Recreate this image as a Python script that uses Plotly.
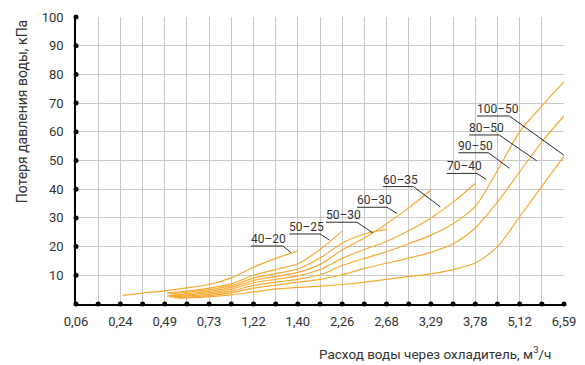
import plotly.graph_objects as go

# ---- data ----
x_tick_labels = ["0,06", "", "0,24", "", "0,49", "", "0,73", "", "1,22", "", "1,40", "",
                 "2,26", "", "2,68", "", "3,29", "", "3,78", "", "5,12", "", "6,59"]
y_tick_values = [10, 20, 30, 40, 50, 60, 70, 80, 90, 100]

# curves: positions along the categorical flow axis (index of tick) and pressure loss, kPa
c1_x = [2.1, 3, 4, 5, 6, 7, 8, 9, 10]
c1_y = [3.0, 3.8, 4.6, 5.6, 6.8, 9.1, 12.8, 15.9, 18.5]
c2_x = [4.1, 5, 6, 7, 8, 9, 10, 11, 12]
c2_y = [3.9, 4.5, 5.5, 7.0, 10.0, 12.0, 14.0, 19.0, 25.4]
c3_x = [4.2, 5, 6, 7, 8, 9, 10, 11, 12, 13, 14]
c3_y = [3.5, 4.1, 5.0, 6.4, 9.0, 10.6, 12.2, 16.0, 21.2, 24.4, 26.0]
c4_x = [4.3, 5, 6, 7, 8, 9, 10, 11, 12, 13, 14, 15, 16]
c4_y = [3.0, 3.6, 4.4, 5.8, 8.2, 9.6, 11.0, 13.8, 18.8, 23.0, 28.0, 33.5, 39.7]
c5_x = [4.1, 5, 6, 7, 8, 9, 10, 11, 12, 13, 14, 15, 16, 17, 18]
c5_y = [2.8, 3.2, 3.9, 5.2, 7.4, 8.6, 9.8, 12.0, 15.9, 19.0, 21.8, 25.5, 30.0, 35.5, 42.0]
c6_x = [4.2, 5, 6, 7, 8, 9, 10, 11, 12, 13, 14, 15, 16, 17, 18, 19, 20, 21, 22]
c6_y = [2.5, 2.8, 3.4, 4.5, 6.5, 7.6, 8.6, 10.2, 13.4, 15.9, 18.2, 21.0, 24.0, 28.0, 34.0, 46.5, 60.0, 69.0, 77.5]
c7_x = [4.4, 5, 6, 7, 8, 9, 10, 11, 12, 13, 14, 15, 16, 17, 18, 19, 20, 21, 22]
c7_y = [2.2, 2.4, 2.9, 3.9, 5.5, 6.6, 7.6, 8.6, 10.2, 12.4, 14.2, 16.0, 18.0, 21.0, 26.5, 35.5, 46.0, 56.5, 65.5]
c8_x = [4.6, 5, 6, 7, 8, 9, 10, 11, 12, 13, 14, 15, 16, 17, 18, 19, 20, 21, 22]
c8_y = [2.0, 2.1, 2.5, 3.2, 4.2, 5.2, 5.8, 6.2, 6.8, 7.6, 8.6, 9.6, 10.5, 12.0, 14.3, 20.0, 30.4, 41.0, 51.5]

curves = [(c1_x, c1_y), (c2_x, c2_y), (c3_x, c3_y), (c4_x, c4_y),
          (c5_x, c5_y), (c6_x, c6_y), (c7_x, c7_y), (c8_x, c8_y)]

# labels with leaders
label_names = ["40–20", "50–25", "50–30", "60–30", "60–35", "70–40", "90–50", "80–50", "100–50"]
label_x0 = [7.89, 9.62, 11.27, 12.67, 13.83, 16.71, 17.24, 17.73, 18.08]
label_x1 = [9.33, 11.01, 12.66, 14.02, 15.21, 18.08, 18.59, 19.08, 19.54]
label_y = [20.2, 24.4, 28.5, 33.7, 40.9, 45.5, 52.7, 58.9, 65.5]
leader_x = [9.69, 11.42, 13.38, 14.46, 16.42, 18.49, 19.54, 20.77, 21.99]
leader_y = [17.9, 22.3, 24.8, 31.6, 33.9, 43.4, 47.3, 49.9, 51.9]

ORANGE = "#F8A931"
FONT = "Roboto"

fig = go.Figure()

for cx, cy in curves:
    fig.add_trace(go.Scatter(x=cx, y=cy, mode="lines",
                             line=dict(color=ORANGE, width=1.2, shape="spline", smoothing=0.8),
                             hoverinfo="skip", showlegend=False))

# leader lines + underlines
for i, name in enumerate(label_names):
    fig.add_trace(go.Scatter(x=[label_x0[i], label_x1[i], leader_x[i]],
                             y=[label_y[i], label_y[i], leader_y[i]],
                             mode="lines", line=dict(color="#2b2b2b", width=1),
                             hoverinfo="skip", showlegend=False))
    fig.add_annotation(x=label_x0[i], y=label_y[i], text=name, showarrow=False,
                       xanchor="left", yanchor="bottom", yshift=-2, xshift=-2,
                       font=dict(family=FONT, size=12, color="#333333"))

# axis dots
n = len(x_tick_labels)
fig.add_trace(go.Scatter(x=list(range(n)), y=[0] * n, mode="markers",
                         marker=dict(color="black", size=5), cliponaxis=False,
                         hoverinfo="skip", showlegend=False))
fig.add_trace(go.Scatter(x=[0] * len(y_tick_values), y=y_tick_values, mode="markers",
                         marker=dict(color="black", size=5), cliponaxis=False,
                         hoverinfo="skip", showlegend=False))

fig.update_xaxes(range=[0, n - 1], tickmode="array", tickvals=list(range(n)), ticktext=x_tick_labels,
                 showgrid=True, gridcolor="#c8c8c8", gridwidth=1, zeroline=False,
                 showline=True, linecolor="black", linewidth=1.5, ticks="",
                 ticklabelstandoff=5, automargin=False,
                 tickfont=dict(family=FONT, size=13, color="#333333"))
fig.update_yaxes(range=[0, 100], tickmode="array", tickvals=y_tick_values,
                 ticktext=[str(v) for v in y_tick_values],
                 showgrid=True, gridcolor="#c8c8c8", gridwidth=1, zeroline=False,
                 showline=True, linecolor="black", linewidth=1.5, ticks="",
                 ticklabelstandoff=8, automargin=False,
                 tickfont=dict(family=FONT, size=13, color="#333333"))

fig.add_annotation(xref="paper", yref="paper", x=-0.11, y=1.0, xanchor="center", yanchor="top",
                   text="Потеря давления воды, кПа", textangle=-90, showarrow=False,
                   font=dict(family=FONT, size=14, color="#333333"))
fig.add_annotation(xref="paper", yref="paper", x=0.978, y=-0.171, xanchor="right", yanchor="middle",
                   text="Расход воды через охладитель, м<sup>3</sup>/ч", showarrow=False,
                   font=dict(family=FONT, size=13.5, color="#333333"))

# page body adds an 8px offset; size the figure so the plot lands where the reference has it
fig.update_layout(width=577, height=357, margin=dict(l=68, r=21, t=9, b=61),
                  plot_bgcolor="white", paper_bgcolor="white")

fig.write_html("out.html")
